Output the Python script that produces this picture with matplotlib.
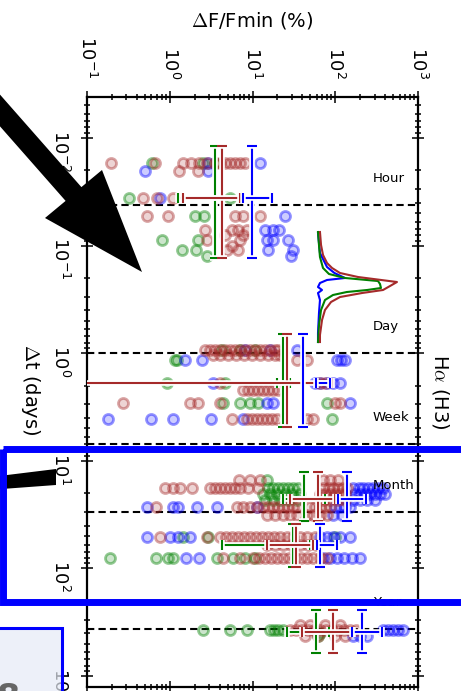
import numpy as np
import matplotlib.pyplot as plt
from matplotlib import patheffects
from matplotlib.colors import to_rgba
from matplotlib.patches import Polygon, Rectangle

plt.rcParams['font.family'] = ['DejaVu Sans']
plt.rcParams['mathtext.fontset'] = 'cm'

VERDE = 'green'
ROJO = '#a52a2a'
AZUL = 'blue'

# escalas de tiempo (dias)
escala_t = [1 / 24, 1, 7, 30, 365]
escala_nombre = ['Hour', 'Day', 'Week', 'Month', 'Year']

# puntos: (dt en dias, [dF/Fmin en %])
green_rows = [
    (0.0171, [0.61, 2.52, 3.52]),
    (0.0361, [0.32, 5.35]),
    (0.0531, [2.02, 2.59]),
    (0.0887, [0.81, 2.19]),
    (0.110, [1.41, 2.08]),
    (0.125, [2.82]),
    (0.933, [4.28, 7.06, 10.7]),
    (1.16, [1.16, 1.22]),
    (1.89, [0.93, 4.65]),
    (2.90, [4.40, 7.06, 9.33, 11.6, 79.5]),
    (4.09, [91.4]),
    (15.1, [15.0]),
    (17.9, [15.4, 17.7, 20.3, 23.4, 26.9, 30.8, 35.5]),
    (20.4, [13.4, 16.3, 19.8, 24.7, 29.9, 37.5]),
    (23.1, [14.2, 17.7, 21.5, 26.9, 34.5]),
    (51.1, [1.45, 2.90, 99.3]),
    (80.0, [0.19, 0.68, 0.95, 1.09, 3.72, 5.81, 8.11, 10.7]),
    (373, [2.52, 5.35, 8.58, 16.3, 18.2, 20.3, 23.4]),
    (400, [65.4]),
    (425, [61.8]),
]

red_rows = [
    (0.0171, [0.195, 0.66, 1.45, 1.81, 2.25, 2.82, 3.52, 4.05, 4.65, 5.35, 6.15, 7.06, 8.11]),
    (0.0203, [1.29, 2.19]),
    (0.0361, [0.475, 0.70, 1.09]),
    (0.0531, [0.53, 0.95, 6.15, 7.68, 12.3]),
    (0.0716, [2.67, 5.65, 6.68, 8.58]),
    (0.080, [4.65, 7.68]),
    (0.0887, [2.82, 7.06]),
    (0.100, [5.65]),
    (0.110, [4.92, 6.68]),
    (0.933, [2.67, 3.06, 3.52, 4.05, 4.65, 5.35, 6.15, 7.06, 8.11, 9.33, 10.7, 12.3, 14.2, 16.3, 18.7, 20.3]),
    (1.04, [3.33, 4.05, 5.1, 6.3, 7.9, 9.8, 12.3, 15.4, 18.7, 21.5]),
    (1.16, [34.5, 45.6]),
    (1.89, [4.05, 65.4, 75.2]),
    (2.20, [7.68, 8.82, 10.1, 11.6, 13.4, 15.4, 17.7, 20.3]),
    (2.90, [0.27, 1.76, 2.19, 4.05, 99.3, 114]),
    (4.09, [5.65, 8.58, 9.8, 11.3, 12.9, 15.0, 17.0, 19.8, 45.6, 53.8]),
    (15.1, [6.87, 9.33, 12.3, 71.1, 86.5, 108]),
    (17.9, [0.88, 1.09, 1.33, 1.86, 3.06, 3.52, 4.05, 4.65, 5.35, 6.15, 7.06, 8.82, 11.6,
            71.1, 83.0, 94.0, 108, 124, 139]),
    (20.4, [65.4, 75.2, 86.5, 99.3, 114, 131]),
    (23.1, [71.1, 86.5, 108, 131]),
    (26.9, [0.68, 6.5, 7.68, 9.33, 11.3, 13.4, 15.4, 17.7, 20.3, 23.4, 26.9, 30.8, 34.5,
            49.5, 56.9, 65.4, 75.2, 86.5]),
    (31.9, [15.0, 18.7, 23.4, 28.4, 34.5, 45.6, 53.8, 65.4, 79.5]),
    (51.1, [0.76, 2.82, 4.05, 4.8, 5.65, 6.68, 7.9, 9.33, 11.0, 13.0, 15.4, 18.2, 21.5, 26.1,
            30.8, 37.5, 45.6, 56.9]),
    (60.7, [15.0, 18.7, 23.4, 29.2, 37.5, 46.9, 58.5]),
    (80.0, [4.40, 7.06, 10.1, 11.9, 14.2, 16.9, 19.8, 23.4, 27.7, 32.6, 38.5, 45.6, 53.8, 65.4, 79.5]),
    (336, [37.5, 49.5, 75.2, 114]),
    (373, [28.4, 33.5, 39.6, 46.9, 55.6, 65.4, 77.3, 91.4, 108, 127, 151, 178]),
    (425, [43.1, 61.8, 99.3, 131]),
]

blue_rows = [
    (0.0171, [2.90, 12.3]),
    (0.0203, [0.50, 2.90]),
    (0.0361, [0.76]),
    (0.0531, [24.7]),
    (0.0716, [14.2, 17.7, 20.9]),
    (0.0887, [15.0, 17.7, 26.9]),
    (0.110, [15.4, 30.8]),
    (0.125, [29.2]),
    (0.933, [8.11, 16.3, 34.5]),
    (1.16, [1.53, 2.45, 105, 117, 131]),
    (1.89, [3.33, 56.9, 65.4, 79.5, 94.0, 114]),
    (2.90, [15.0, 17.7, 151]),
    (4.09, [0.18, 0.59, 1.09, 3.15, 7.68]),
    (17.9, [164, 191, 216, 252, 286, 333, 378]),
    (20.4, [173, 199, 229, 263, 302, 347, 399]),
    (23.1, [164, 199, 242, 302]),
    (26.9, [0.53, 1.09, 1.26, 2.13, 3.72, 11.3, 99.3, 114, 131, 151]),
    (31.9, [94.0, 121]),
    (51.1, [0.53, 1.0, 1.26, 1.76, 65.4, 79.5, 94.0, 114, 151]),
    (80.0, [1.57, 2.25, 71.1, 86.5, 105, 127, 160, 199]),
    (373, [378, 440, 499, 566, 659]),
    (425, [164, 199, 242]),
]

# cruces (media y dispersion) por escala
cruz_t = [0.0361, 1.89, 22.6, 60.7, 390]
cruz_t_lo = [0.0119, 0.664, 12.7, 38.6, 244]
cruz_t_hi = [0.130, 4.85, 36.2, 97.1, 611]
cruz_green = [3.52, 23.4, 41.9, 30.8, 58.5]
cruz_red = [4.28, 26.1, 61.8, 33.5, 94.0]
cruz_blue = [9.87, 40.7, 139, 65.4, 210]
hbar_green_lo = [1.26, 20.0, 23.4, 4.27, 26.1]
hbar_green_hi = [7.0, 28.0, 75.0, 49.5, 85.0]
hbar_red_lo = [1.45, 0.05, 28.4, 15.0, 39.6]
hbar_red_hi = [7.06, 91.4, 99.3, 53.8, 164]
hbar_blue_lo = [7.68, 58.5, 108, 60.1, 159]
hbar_blue_hi = [17.2, 86.5, 235, 105, 367]

# perfil de la linea (inserto)
perf_wl_red = [-0.927, -0.691, -0.509, -0.364, -0.273, -0.182, -0.109, -0.018, 0.055, 0.127,
               0.182, 0.255, 0.345, 0.491, 0.673, 0.945, 1.073]
perf_red = [0.024, 0.037, 0.061, 0.110, 0.171, 0.268, 0.488, 0.963, 0.878, 0.793,
            0.537, 0.268, 0.159, 0.085, 0.049, 0.024, 0.024]
perf_wl_green = [-0.927, -0.691, -0.473, -0.273, -0.164, -0.091, -0.036, 0.018, 0.091, 0.127,
                 0.164, 0.218, 0.309, 0.491, 0.764, 1.073]
perf_green = [0.0, 0.012, 0.024, 0.061, 0.134, 0.33, 0.732, 0.756, 0.768, 0.60,
              0.35, 0.183, 0.085, 0.037, 0.012, 0.0]
perf_wl_blue = [-0.909, -0.545, -0.291, -0.182, -0.091, -0.055, 0.0, 0.073, 0.127, 0.182,
                0.309, 0.545, 0.909, 1.073]
perf_blue = [0.0, 0.024, 0.110, 0.20, 0.329, 0.11, 0.024, 0.0, 0.049, 0.0,
             0.024, 0.012, 0.0, 0.0]

W, H = 461, 691
fig = plt.figure(figsize=(W / 100, H / 100), dpi=100)
ax = fig.add_axes([87 / W, 1 - 687 / H, 331 / W, 590 / H])
ax.set_xscale('log')
ax.set_yscale('log')
ax.set_xlim(0.1, 1000)
ax.set_ylim(1265, 0.00417)

for t in escala_t:
    ax.axhline(t, color='k', ls=(0, (3.5, 2)), lw=1.5, zorder=1)
for t, nombre in zip(escala_t, escala_nombre):
    ax.text(286, t / 1.75, nombre, ha='left', va='center', fontsize=9.5, zorder=6)


def puntos(rows, color):
    t = [r[0] for r in rows for _ in r[1]]
    f = [v for r in rows for v in r[1]]
    ax.scatter(f, t, s=52, facecolors=[to_rgba(color, 0.2)], edgecolors=[to_rgba(color, 0.42)],
               linewidths=2.0, zorder=2)


puntos(green_rows, VERDE)
puntos(blue_rows, AZUL)
puntos(red_rows, ROJO)

borde = [patheffects.withStroke(linewidth=4, foreground='white')]


def cruces(xc, lo, hi, color):
    for i in range(len(cruz_t)):
        yc = cruz_t[i]
        ev = ax.errorbar(xc[i], yc, yerr=[[yc - cruz_t_lo[i]], [cruz_t_hi[i] - yc]], fmt='none',
                         ecolor=color, elinewidth=1.5, capsize=3.5, capthick=1.5, zorder=4)
        xm = np.sqrt(lo[i] * hi[i])
        eh = ax.errorbar(xm, yc, xerr=[[xm - lo[i]], [hi[i] - xm]], fmt='none',
                         ecolor=color, elinewidth=1.5, capsize=3.5, capthick=1.5, zorder=4)
        for e in (ev, eh):
            for art in e.lines[1] + e.lines[2]:
                art.set_path_effects(borde)


cruces(cruz_green, hbar_green_lo, hbar_green_hi, VERDE)
cruces(cruz_red, hbar_red_lo, hbar_red_hi, ROJO)
cruces(cruz_blue, hbar_blue_lo, hbar_blue_hi, AZUL)

ax.tick_params(which='both', direction='inout', top=True, bottom=True, left=True, right=True,
               labeltop=True, labelbottom=False, labelleft=True, labelright=False, width=1.1)
ax.tick_params(which='major', length=8)
ax.tick_params(which='minor', length=4.5)
ax.tick_params(axis='x', labelrotation=-90, pad=9, labelsize=13)
ax.tick_params(axis='y', labelrotation=-90, pad=8, labelsize=13)
for s in ax.spines.values():
    s.set_linewidth(1.6)

ax.text(0.5, (687 - 20) / 590, r'$\Delta$F/Fmin (%)', transform=ax.transAxes,
        ha='center', va='center', fontsize=14)
ax.text((30 - 87) / 331, (687 - 390) / 590, r'$\Delta$t (days)', transform=ax.transAxes,
        ha='center', va='center', rotation=-90, fontsize=14)
ax.text((440 - 87) / 331, (687 - 392) / 590, r'H$\alpha$ (H3)', transform=ax.transAxes,
        ha='center', va='center', rotation=-90, fontsize=14)

# inserto con el perfil
axi = fig.add_axes([318 / W, 1 - 344 / H, 82 / W, 116 / H])
axi.set_xlim(0, 1)
axi.set_ylim(1.109, -1.0)
axi.axis('off')
axi.plot(perf_blue, perf_wl_blue, color=AZUL, lw=1.5, clip_on=False)
axi.plot(perf_green, perf_wl_green, color=VERDE, lw=1.5, clip_on=False)
axi.plot(perf_red, perf_wl_red, color=ROJO, lw=1.5, clip_on=False)

# marcas encima (flechas y recuadros)
ov = fig.add_axes([0, 0, 1, 1], zorder=10)
ov.set_xlim(0, W)
ov.set_ylim(H, 0)
ov.axis('off')
ov.patch.set_alpha(0)
ov.add_patch(Polygon([(-17.6, 74.6), (81.4, 187.1), (102, 170), (142, 272), (45, 218),
                      (65.6, 200.9), (-33.4, 88.4)], closed=True, color='black', lw=0))
ov.add_patch(Polygon([(-5, 476.5), (56, 469), (56, 485), (-5, 489.5)], closed=True,
                     color='black', lw=0))
ov.add_patch(Rectangle((3, 448.5), 480, 153.5, fill=False, ec=AZUL, lw=5))
ov.add_patch(Rectangle((-10, 627.5), 71.5, 80, fc=(0.90, 0.92, 0.97, 0.7), ec=AZUL, lw=2.2))
ov.text(-3, 698, '8', fontsize=24, fontweight='bold', color='#666666', ha='left', va='center')

fig.savefig('out.png', dpi=100)
